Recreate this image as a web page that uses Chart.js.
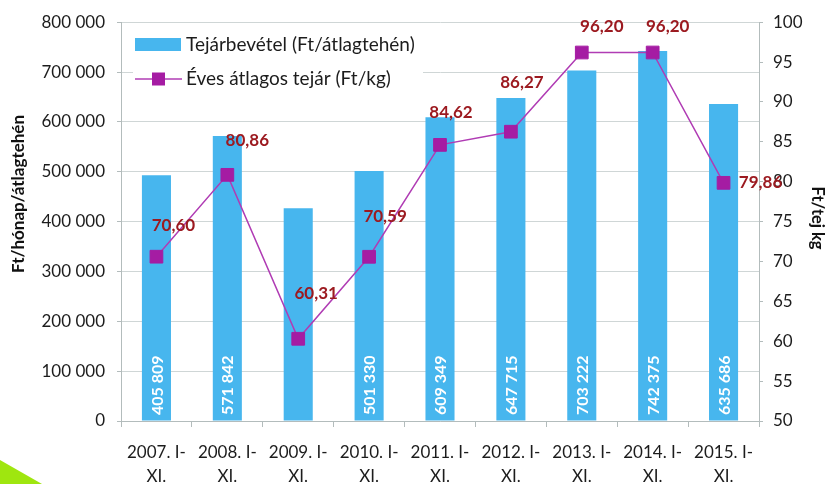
<!DOCTYPE html>
<html>
<head>
<meta charset="utf-8">
<script src="https://cdn.jsdelivr.net/npm/chart.js@4.4.1/dist/chart.umd.min.js"></script>
<style>
html,body{margin:0;padding:0;background:#fff;}
#wrap{position:relative;width:827px;height:484px;overflow:hidden;}
#tri{position:absolute;left:0;top:460px;width:42px;height:24px;background:#9fe60f;clip-path:polygon(0 0,100% 100%,0 100%);}
</style>
</head>
<body>
<div id="wrap">
<canvas id="c" width="827" height="484"></canvas>
<div id="tri"></div>
</div>
<script>
// ---- data ----
const categories = [
  ['2007. I-','XI.'], ['2008. I-','XI.'], ['2009. I-','XI.'], ['2010. I-','XI.'],
  ['2011. I-','XI.'], ['2012. I-','XI.'], ['2013. I-','XI.'], ['2014. I-','XI.'], ['2015. I-','XI.']
];
const revenueValues = [493000, 571842, 427000, 501330, 609349, 647715, 703222, 742375, 635686];
const revenueLabels = ['405 809', '571 842', '', '501 330', '609 349', '647 715', '703 222', '742 375', '635 686'];
const priceValues = [70.60, 80.86, 60.31, 70.59, 84.62, 86.27, 96.20, 96.20, 79.86];
const priceLabels = ['70,60', '80,86', '60,31', '70,59', '84,62', '86,27', '96,20', '96,20', '79,86'];
const seriesNames = ['Tejárbevétel (Ft/átlagtehén)', 'Éves átlagos tejár (Ft/kg)'];
const axisTitles = ['Ft/hónap/átlagtehén', 'Ft/tej kg'];

// ---- styles ----
const FONT = "Lato, 'Open Sans', 'DejaVu Sans', sans-serif";
const BAR_COLOR = '#47b6ee';
const LINE_COLOR = '#b03cb4';
const MARKER_COLOR = '#a51ca3';
const LABEL_COLOR = '#9c1a20';
const GRID_COLOR = '#cfd6d6';
const AXIS_COLOR = '#b3bcbc';
const TEXT_COLOR = '#1c1c1c';
// label offsets (px) relative to markers
const labelOffsets = [[17,-31],[20,-34],[18,-45],[16,-40],[11,-32],[11,-49],[20,-26],[15,-26],[37,0]];

function fmt(v){ return String(v).replace(/\B(?=(\d{3})+(?!\d))/g, ' '); }

const extras = {
  id: 'extras',
  afterDatasetDraw(chart, args) {
    if (args.index !== 0) return;
    const ctx = chart.ctx;
    const meta = chart.getDatasetMeta(0);
    ctx.save();
    ctx.fillStyle = '#ffffff';
    ctx.font = 'bold 16px ' + FONT;
    ctx.textAlign = 'left';
    ctx.textBaseline = 'middle';
    meta.data.forEach((bar, i) => {
      const t = revenueLabels[i];
      if (!t) return;
      ctx.save();
      ctx.translate(bar.x, chart.chartArea.bottom - 6);
      ctx.rotate(-Math.PI / 2);
      ctx.fillText(t, 0, 1);
      ctx.restore();
    });
    ctx.restore();
  },
  afterDraw(chart) {
    const ctx = chart.ctx;
    const meta = chart.getDatasetMeta(1);
    ctx.save();
    // data labels
    ctx.fillStyle = LABEL_COLOR;
    ctx.font = 'bold 17px ' + FONT;
    ctx.textAlign = 'center';
    ctx.textBaseline = 'middle';
    meta.data.forEach((pt, i) => {
      const o = labelOffsets[i];
      ctx.fillText(priceLabels[i], pt.x + o[0], pt.y + o[1]);
    });
    // axis titles
    ctx.fillStyle = '#111';
    ctx.font = 'bold 17px ' + FONT;
    ctx.save();
    ctx.translate(19, 194);
    ctx.rotate(-Math.PI / 2);
    ctx.fillText(axisTitles[0], 0, 0);
    ctx.restore();
    ctx.font = 'bold 16.5px ' + FONT;
    ctx.save();
    ctx.translate(817, 218);
    ctx.rotate(Math.PI / 2);
    ctx.fillText(axisTitles[1], 0, 0);
    ctx.restore();
    // legend
    ctx.fillStyle = '#ffffff';
    ctx.fillRect(133, 30, 290, 62);
    ctx.fillStyle = BAR_COLOR;
    ctx.fillRect(135, 38, 46, 13);
    ctx.strokeStyle = LINE_COLOR;
    ctx.lineWidth = 1.5;
    ctx.beginPath();
    ctx.moveTo(135, 79); ctx.lineTo(182, 79); ctx.stroke();
    ctx.fillStyle = MARKER_COLOR;
    ctx.fillRect(152, 72.5, 13, 13);
    ctx.fillStyle = TEXT_COLOR;
    ctx.font = '19px ' + FONT;
    ctx.textAlign = 'left';
    ctx.fillText(seriesNames[0], 186, 45);
    ctx.fillText(seriesNames[1], 186, 79);
    ctx.restore();
  }
};

new Chart(document.getElementById('c'), {
  data: {
    labels: categories,
    datasets: [
      {
        type: 'bar',
        label: seriesNames[0],
        data: revenueValues,
        backgroundColor: BAR_COLOR,
        yAxisID: 'y',
        order: 1,
        barPercentage: 0.82,
        categoryPercentage: 0.5
      },
      {
        type: 'line',
        label: seriesNames[1],
        data: priceValues,
        borderColor: LINE_COLOR,
        borderWidth: 1.5,
        backgroundColor: MARKER_COLOR,
        pointBackgroundColor: MARKER_COLOR,
        pointBorderColor: MARKER_COLOR,
        pointBorderWidth: 1,
        pointStyle: 'rect',
        pointRadius: 9,
        yAxisID: 'y1',
        order: 0,
        tension: 0
      }
    ]
  },
  options: {
    responsive: false,
    animation: false,
    events: [],
    layout: { padding: { top: 22, bottom: 0, left: 0, right: 0 } },
    plugins: { legend: { display: false }, tooltip: { enabled: false } },
    scales: {
      x: {
        grid: { display: true, drawOnChartArea: false, drawTicks: true, tickLength: 6, color: AXIS_COLOR, offset: true },
        border: { color: AXIS_COLOR, width: 1 },
        ticks: { color: TEXT_COLOR, font: { family: FONT, size: 17, lineHeight: 1.45 }, padding: 13, maxRotation: 0, autoSkip: false },
        afterFit(s) { s.height = 63; }
      },
      y: {
        position: 'left',
        min: 0, max: 800000,
        grid: { color: GRID_COLOR, tickLength: 4, tickColor: AXIS_COLOR },
        border: { color: AXIS_COLOR, width: 1 },
        ticks: { stepSize: 100000, color: TEXT_COLOR, font: { family: FONT, size: 17 }, padding: 12, callback: v => fmt(v) },
        afterFit(s) { s.width = 121; }
      },
      y1: {
        position: 'right',
        min: 50, max: 100,
        grid: { drawOnChartArea: false, tickLength: 4, color: AXIS_COLOR },
        border: { color: AXIS_COLOR, width: 1 },
        ticks: { stepSize: 5, color: TEXT_COLOR, font: { family: FONT, size: 17 }, padding: 10 },
        afterFit(s) { s.width = 68; }
      }
    }
  },
  plugins: [extras]
});
</script>
</body>
</html>
